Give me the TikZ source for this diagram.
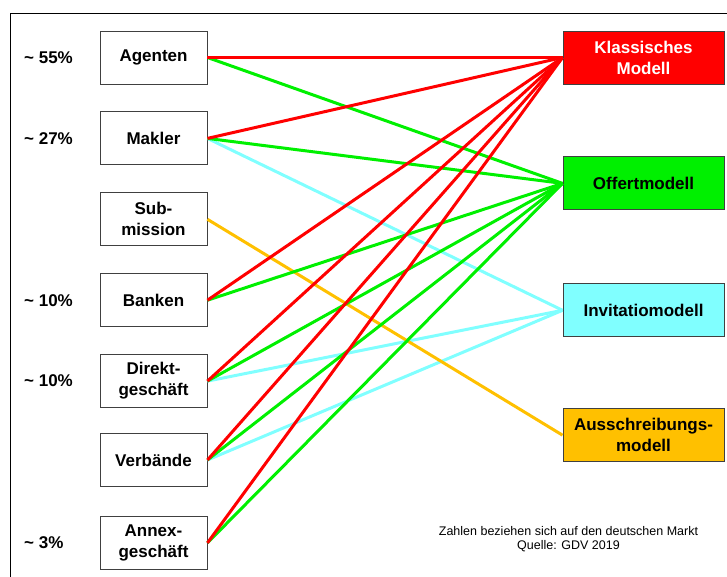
\documentclass[tikz,border=0pt]{standalone}
\usepackage{fontspec}
\setmainfont{Liberation Sans}
\usetikzlibrary{positioning}

\definecolor{klred}{RGB}{255,0,0}
\definecolor{offgreen}{RGB}{0,240,0}
\definecolor{invcyan}{RGB}{128,255,255}
\definecolor{ausorange}{RGB}{255,192,0}

\begin{document}
\begin{tikzpicture}[x=1pt, y=1pt,
        channel/.style={draw=black!75, line width=0.9pt, minimum width=107pt, minimum height=53pt, align=center, font=\fontsize{17}{21}\selectfont\bfseries},
        model/.style={draw=black!75, line width=0.9pt, minimum width=161pt, minimum height=53pt, align=center, font=\fontsize{17}{21}\selectfont\bfseries},
        share/.style={anchor=west, inner sep=0pt, font=\fontsize{17}{21}\selectfont\bfseries},
        link/.style={line width=3pt},
        node distance=27pt
    ]

    \useasboundingbox (0,0) rectangle (727,576);
    \draw[line width=0.9pt] (10,-5) -- (10,563) -- (735,563);

    % Vertriebswege
    \node[channel] (agenten) at (153.5,518.5) {Agenten};
    \node[channel, below=of agenten] (makler) {Makler};
    \node[channel, below=of makler] (submission) {Sub-\\mission};
    \node[channel, below=of submission] (banken) {Banken};
    \node[channel, below=of banken] (direkt) {Direkt-\\geschäft};
    \node[channel, below=25pt of direkt] (verbaende) {Verbände};
    \node[channel, below=29pt of verbaende] (annex) {Annex-\\geschäft};

    % Anteile
    \node[share] (p55) at (24,0 |- agenten) {\textasciitilde\ 55\%};
    \node[share] (p27) at (24,0 |- makler) {\textasciitilde\ 27\%};
    \node[share] (p10a) at (24,0 |- banken) {\textasciitilde\ 10\%};
    \node[share] (p10b) at (24,0 |- direkt) {\textasciitilde\ 10\%};
    \node[share] (p3) at (24,0 |- annex) {\textasciitilde\ 3\%};

    % Modelle
    \node[model, fill=klred, text=white] (klassisch) at (643.5,518.5) {Klassisches\\Modell};
    \node[model, fill=offgreen, below=72pt of klassisch] (offert) {Offertmodell};
    \node[model, fill=invcyan, below=73pt of offert] (invitatio) {Invitatiomodell};
    \node[model, fill=ausorange, below=71pt of invitatio] (ausschreibung) {Ausschreibungs-\\modell};

    % Verbindungen
    \draw[link, invcyan] (makler.east) -- (invitatio.west);
    \draw[link, invcyan] (direkt.east) -- (invitatio.west);
    \draw[link, invcyan] (verbaende.east) -- (invitatio.west);
    \draw[link, ausorange] (submission.east) -- (ausschreibung.west);
    \draw[link, offgreen] (agenten.east) -- (offert.west);
    \draw[link, offgreen] (makler.east) -- (offert.west);
    \draw[link, offgreen] (banken.east) -- (offert.west);
    \draw[link, offgreen] (direkt.east) -- (offert.west);
    \draw[link, offgreen] (verbaende.east) -- (offert.west);
    \draw[link, offgreen] (annex.east) -- (offert.west);
    \draw[link, klred] (agenten.east) -- (klassisch.west);
    \draw[link, klred] (makler.east) -- (klassisch.west);
    \draw[link, klred] (banken.east) -- (klassisch.west);
    \draw[link, klred] (direkt.east) -- (klassisch.west);
    \draw[link, klred] (verbaende.east) -- (klassisch.west);
    \draw[link, klred] (annex.east) -- (klassisch.west);

    \node[align=center, font=\fontsize{12.5}{14}\selectfont] (quelle) at (568.5,36.5) {Zahlen beziehen sich auf den deutschen Markt\\Quelle: GDV 2019};

\end{tikzpicture}
\end{document}
